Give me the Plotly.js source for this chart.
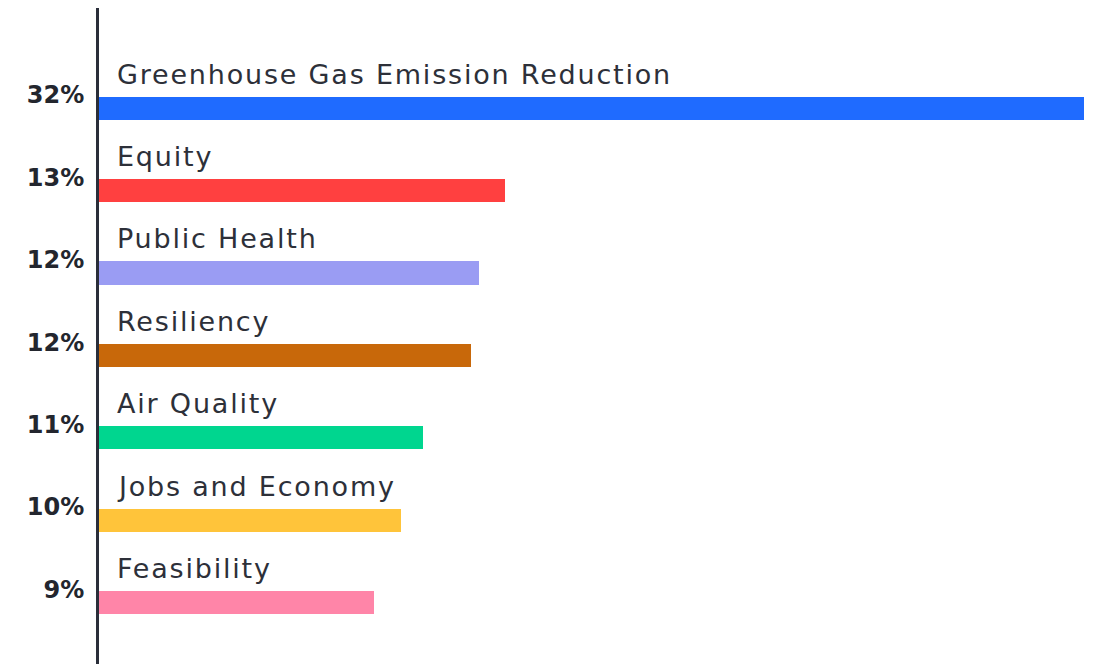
<!DOCTYPE html>
<html>
<head>
<meta charset="utf-8">
<script src="https://cdn.plot.ly/plotly-3.0.1.min.js"></script>
<style>
  html, body { margin: 0; padding: 0; background: #ffffff; }
  #chart { width: 1100px; height: 664px; }
  #chart .annotation-text { letter-spacing: 1.8px; }
</style>
</head>
<body>
<div id="chart"></div>
<script>
// Data
const categories = [
  "Greenhouse Gas Emission Reduction",
  "Equity",
  "Public Health",
  "Resiliency",
  "Air Quality",
  "Jobs and Economy",
  "Feasibility"
];
const values = [32, 13.2, 12.35, 12.08, 10.53, 9.8, 8.93];
const tickLabels = ["32%", "13%", "12%", "12%", "11%", "10%", "9%"];
const barColors = ["#1f6bff", "#ff4040", "#9a9cf3", "#c8680a", "#00d68f", "#ffc43a", "#ff85a8"];

const positions = categories.map((_, i) => i);
const textColor = "#2d3039";
const labelFont = "DejaVu Sans, sans-serif";

const trace = {
  type: "bar",
  orientation: "h",
  x: values,
  y: positions,
  width: 0.28,
  offset: 0.02,
  marker: { color: barColors, line: { width: 0 } },
  hoverinfo: "skip",
  showlegend: false
};

const annotations = categories.map((name, i) => ({
  x: 0,
  y: positions[i] + 0.02,
  xref: "x",
  yref: "y",
  text: name,
  showarrow: false,
  xanchor: "left",
  yanchor: "bottom",
  align: "left",
  xshift: 16,
  yshift: 5,
  font: { family: labelFont, size: 27, color: textColor }
}));

const layout = {
  width: 1100,
  height: 664,
  margin: { l: 99, r: 0, t: 8, b: 0 },
  paper_bgcolor: "#ffffff",
  plot_bgcolor: "#ffffff",
  bargap: 0,
  xaxis: {
    range: [0, 32.52],
    visible: false,
    showgrid: false,
    zeroline: false,
    fixedrange: true
  },
  yaxis: {
    range: [6.905, -1.056],
    tickmode: "array",
    tickvals: positions,
    ticktext: tickLabels,
    ticks: "",
    ticklabelstandoff: 7,
    showgrid: false,
    zeroline: false,
    showline: true,
    linecolor: "#2a2e3a",
    linewidth: 3,
    tickfont: { family: labelFont, size: 24, weight: "bold", color: "#23262e" },
    fixedrange: true
  },
  annotations: annotations
};

Plotly.newPlot("chart", [trace], layout, { displayModeBar: false, staticPlot: true });
</script>
</body>
</html>
